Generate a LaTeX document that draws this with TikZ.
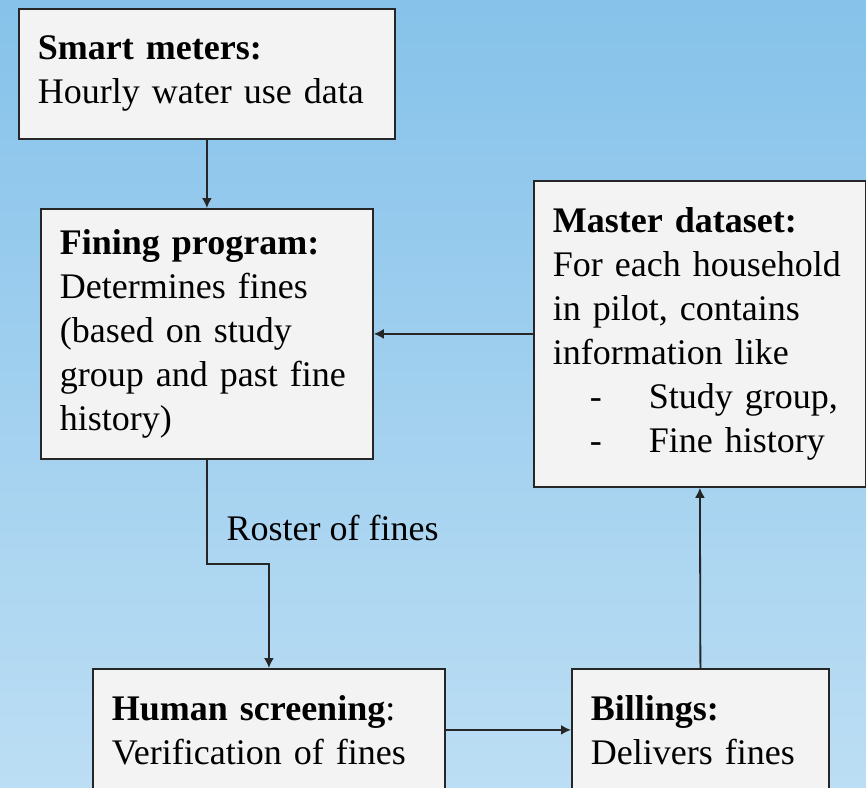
\documentclass[tikz,border=0pt]{standalone}
\usepackage{fontspec}
\setmainfont{Liberation Serif}
\usetikzlibrary{arrows.meta}
\definecolor{skytop}{HTML}{86C2EA}
\definecolor{skybottom}{HTML}{BCDEF4}
\definecolor{boxfill}{HTML}{F3F3F3}
\tikzset{
    stagebox/.style={draw=black!85, line width=1.8pt, fill=boxfill, anchor=north west,
        align=left, inner xsep=19pt, inner ysep=0pt,
        font=\fontsize{36}{44}\selectfont},
    flow/.style={line width=1.8pt, draw=black!85, -{Latex[length=10pt,width=10pt]}}
}
\begin{document}
\begin{tikzpicture}[x=1pt, y=-1pt]
    % background
    \useasboundingbox (0,0) rectangle (866,787);
    \clip (0,0) rectangle (866,787);
    \shade[top color=skytop, bottom color=skybottom] (0,0) rectangle (866,787);

    % boxes
    \node[stagebox, text width=338pt, minimum height=130pt] (meters) at (18,8)
        {\textbf{Smart meters:}\\Hourly water use data};
    \node[stagebox, text width=294pt, minimum height=250pt] (fining) at (40,208)
        {\textbf{Fining program:}\\Determines fines\\(based on study\\group and past fine\\history)};
    \node[stagebox, text width=294pt, minimum height=306pt] (master) at (533,180)
        {\textbf{Master dataset:}\\For each household\\in pilot, contains\\information like\\
         \makebox[96pt][l]{\hspace{37pt}-}Study group,\\
         \makebox[96pt][l]{\hspace{37pt}-}Fine history};
    \node[stagebox, text width=314pt, minimum height=122pt] (screen) at (92,668)
        {\textbf{Human screening}:\\Verification of fines};
    \node[stagebox, text width=219pt, minimum height=122pt] (bill) at (571,668)
        {\textbf{Billings:}\\Delivers fines};

    % connectors
    \draw[flow] (meters.south) -- (fining.north);
    \draw[flow] (fining.south) -- ++(0,104) -| (screen.north);
    \node[font=\fontsize{36}{44}\selectfont, anchor=base west] (roster) at (223,540) {Roster of fines};
    \draw[flow] (master.west) -- (fining.east);
    \draw[flow] (screen.east) -- (bill.west);
    \draw[flow] (bill.north) -- (master.south);
\end{tikzpicture}
\end{document}
